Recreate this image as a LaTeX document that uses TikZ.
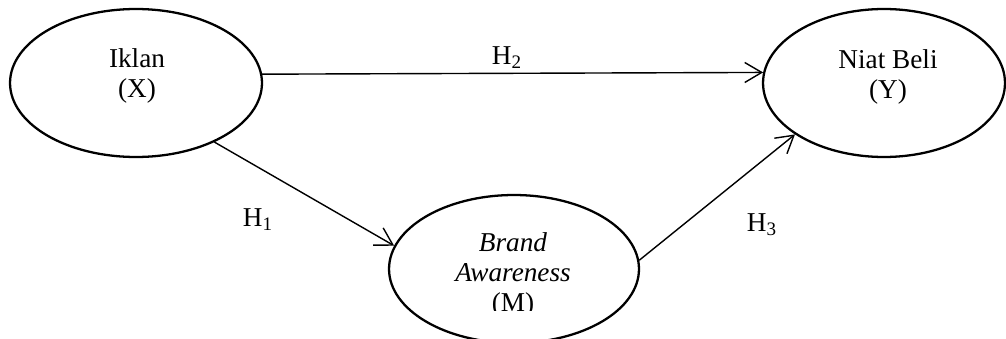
\documentclass[tikz,border=0pt]{standalone}
\usepackage{fontspec}
\setmainfont{Liberation Serif}
\usetikzlibrary{shapes}
\usetikzlibrary{arrows.meta}

\begin{document}
\begin{tikzpicture}[x=0.02cm,y=-0.02cm]
	\tikzstyle{latent} = [draw,ellipse,line width=1.3pt,minimum height=2.96cm,inner sep=0pt]
	\tikzstyle{vartext} = [align=center,font=\fontsize{15.5}{17}\selectfont,inner sep=0pt]
	\tikzstyle{hyp} = [-{Straight Barb[length=3.4mm,width=4mm,line width=0.8pt]},line width=0.8pt]
	\tikzstyle{hlabel} = [font=\fontsize{15.5}{17}\selectfont,inner sep=0pt]

	\useasboundingbox (0,0) rectangle (1006,338);

	\node[latent,minimum width=5.04cm] at (136,83) (iklan) {};
	\node[latent,minimum width=4.84cm] at (884,83) (niat) {};
	\node[latent,minimum width=5cm] at (514,269) (brand) {};

	\node[vartext] at (137,76) (iklantext) {Iklan\\(X)};
	\node[vartext] at (888,77) (niattext) {Niat Beli\\(Y)};

	% the (M) line is cut off
	\begin{scope}
		\clip (0,0) rectangle (1006,310);
		\node[vartext] at (513,275) (brandtext) {\textit{Brand}\\\textit{Awareness}\\(M)};
	\end{scope}

	\node[hlabel] at (507,58) (h2) {H\textsubscript{2}};
	\node[hlabel] at (258,220) (h1) {H\textsubscript{1}};
	\node[hlabel] at (762,225) (h3) {H\textsubscript{3}};

	\draw[hyp] (iklan.4.6) -- (niat.175.2);
	\draw[hyp] (iklan.-37.9) -- (brand.169.2);
	\draw[hyp] (brand.4.5) -- (niat.210.3);
\end{tikzpicture}
\end{document}
